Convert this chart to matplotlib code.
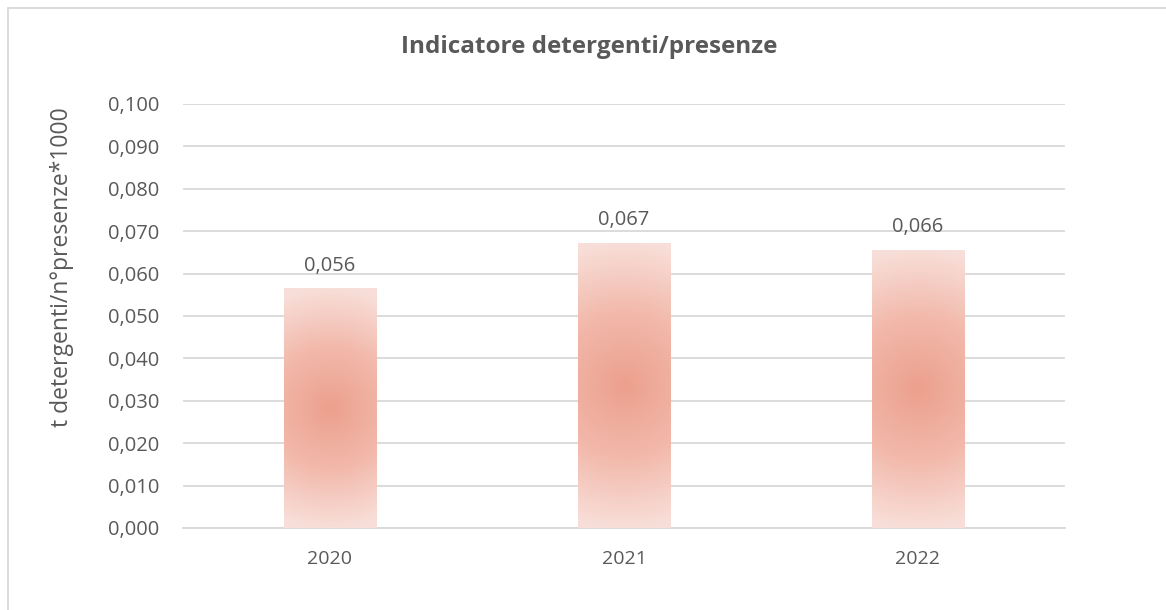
import numpy as np
import matplotlib
matplotlib.use("Agg")
import matplotlib.pyplot as plt
from matplotlib.colors import LinearSegmentedColormap
from matplotlib.patches import Rectangle
from matplotlib.ticker import FuncFormatter, MultipleLocator

years = ["2020", "2021", "2022"]
values = [0.0565, 0.0673, 0.0656]
labels = ["0,056", "0,067", "0,066"]

plt.rcParams['font.family'] = ['Open Sans', 'DejaVu Sans']
txt = '#595959'

fig = plt.figure(figsize=(11.66, 6.10), dpi=100)
ax = fig.add_axes([183/1166, 1-528/610, (1065-183)/1166, (528-104)/610])

x = np.arange(len(years))
bars = ax.bar(x, values, width=0.313, color='none', edgecolor='none', zorder=3)

ax.set_xlim(-0.5, 2.5)
ax.set_ylim(0, 0.100)
ax.yaxis.set_major_locator(MultipleLocator(0.010))
ax.yaxis.set_major_formatter(FuncFormatter(lambda v, p: f"{v:.3f}".replace('.', ',')))
ax.set_xticks(x)
ax.set_xticklabels(years)
ax.grid(axis='y', color='#D9D9D9', linewidth=1.3, zorder=0)
ax.set_axisbelow(True)
for s in ['top', 'right', 'left']:
    ax.spines[s].set_visible(False)
ax.spines['bottom'].set_color('#D9D9D9')
ax.spines['bottom'].set_linewidth(1.3)
ax.tick_params(axis='both', length=0, colors=txt)
ax.tick_params(axis='y', labelsize=14.5, pad=17)
ax.tick_params(axis='x', labelsize=14, pad=16)

cmap = LinearSegmentedColormap.from_list('g', ['#ECA08D', '#F2B8AA', '#F8DED8'])
fig.canvas.draw()
for b, lab in zip(bars, labels):
    bx, by, bw, bh = b.get_x(), b.get_y(), b.get_width(), b.get_height()
    p0 = ax.transData.transform((bx, by))
    p1 = ax.transData.transform((bx + bw, by + bh))
    wpx, hpx = p1[0] - p0[0], p1[1] - p0[1]
    nx, ny = 60, 160
    gx = np.linspace(-wpx/2, wpx/2, nx)
    gy = np.linspace(-hpx/2, hpx/2, ny)
    GX, GY = np.meshgrid(gx, gy)
    r = np.sqrt(GX**2 + GY**2) / (hpx/2)
    r = np.clip(r, 0, 1)
    im = ax.imshow(r, cmap=cmap, vmin=0, vmax=1, extent=(bx, bx+bw, by, by+bh),
                   aspect='auto', origin='lower', interpolation='bilinear', zorder=3)
    im.set_clip_path(b)
    ax.annotate(lab, (bx + bw/2, by + bh), xytext=(0, 9), textcoords='offset points',
                ha='center', va='bottom', fontsize=14.5, color=txt)

ax.set_xlim(-0.5, 2.5)
ax.set_ylim(0, 0.100)
fig.text(62/1166, 1-267/610, "t detergenti/n°presenze*1000", rotation=90,
         ha='center', va='center', fontsize=16.5, color=txt)
fig.text(589/1166, 1-47/610, "Indicatore detergenti/presenze", ha='center', va='center',
         fontsize=17.5, fontweight='bold', color=txt)

fig.patches.append(Rectangle((8/1166, -0.1), 1.2, 1-8/610+0.1, transform=fig.transFigure,
                             fill=False, edgecolor='#D9D9D9', linewidth=1.3))

fig.savefig('out.png', dpi=100)
